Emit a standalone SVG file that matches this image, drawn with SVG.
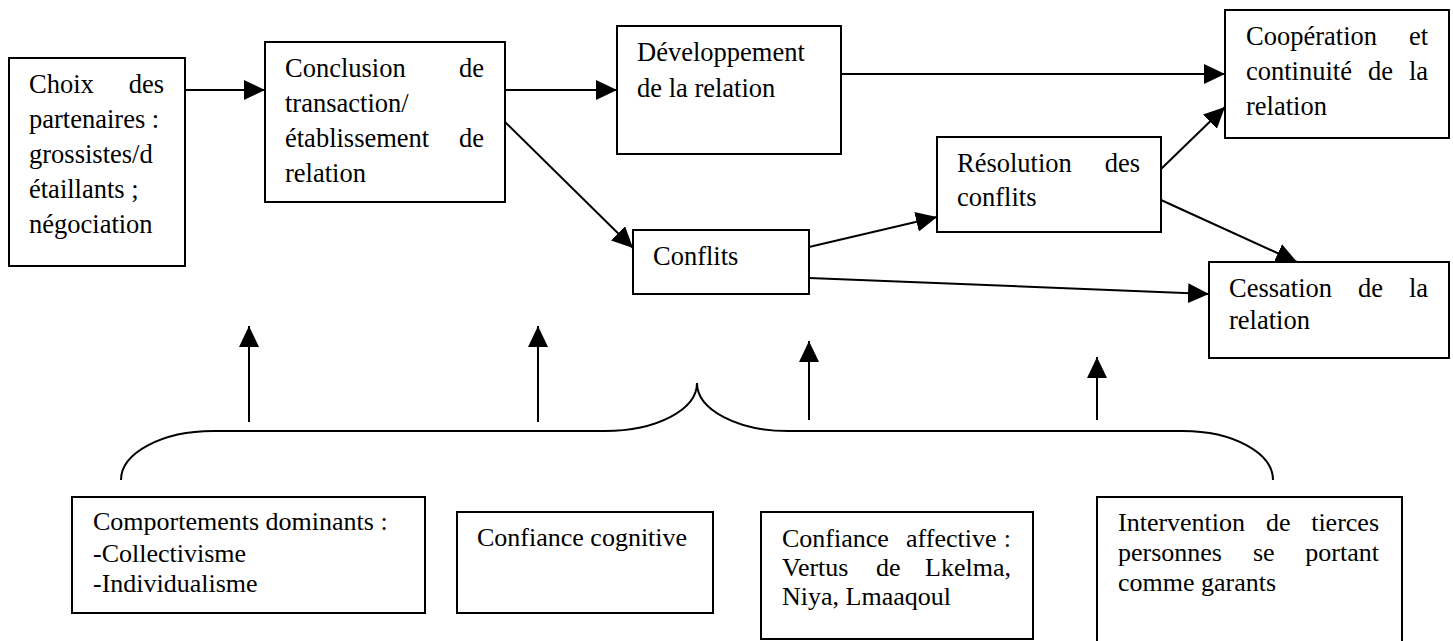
<svg xmlns="http://www.w3.org/2000/svg" width="1453" height="641" viewBox="0 0 1453 641">
<style>
  .box { fill: #fff; stroke: #000; stroke-width: 2; }
  .t { font-family: "Liberation Serif", "Times New Roman", serif; font-size: 26.5px; fill: #000; }
  .b { font-family: "Liberation Serif", "Times New Roman", serif; font-size: 26px; fill: #000; }
  .e { text-anchor: end; }
  .c { fill: none; stroke: #000; stroke-width: 2; }
</style>
<defs>
  <marker id="ah" viewBox="0 0 21 20" refX="21" refY="10" markerWidth="21" markerHeight="20" markerUnits="userSpaceOnUse" orient="auto">
    <path d="M0,0 L21,10 L0,20 z" fill="#000"/>
  </marker>
</defs>
<rect width="1453" height="641" fill="#fff"/>

<g id="connectors">
  <line class="c" x1="185" y1="90" x2="265" y2="90" marker-end="url(#ah)"/>
  <line class="c" x1="505" y1="90" x2="617" y2="90" marker-end="url(#ah)"/>
  <line class="c" x1="505" y1="122" x2="633" y2="248" marker-end="url(#ah)"/>
  <line class="c" x1="841" y1="74" x2="1225" y2="74" marker-end="url(#ah)"/>
  <line class="c" x1="809" y1="247" x2="937" y2="217" marker-end="url(#ah)"/>
  <line class="c" x1="809" y1="278" x2="1209" y2="294" marker-end="url(#ah)"/>
  <line class="c" x1="1161" y1="169" x2="1225" y2="107" marker-end="url(#ah)"/>
  <line class="c" x1="1161" y1="200" x2="1297" y2="262" marker-end="url(#ah)"/>
  <line class="c" x1="249" y1="422" x2="249" y2="326" marker-end="url(#ah)"/>
  <line class="c" x1="538" y1="422" x2="538" y2="326" marker-end="url(#ah)"/>
  <line class="c" x1="809" y1="420" x2="809" y2="341" marker-end="url(#ah)"/>
  <line class="c" x1="1097" y1="420" x2="1097" y2="357" marker-end="url(#ah)"/>
  <path id="brace" class="c" d="M121,480 C121,453 162,431 213,431 L605,431 C656,431 697,410 697,383 C697,410 738,431 788,431 L1183,431 C1233,431 1273,453 1273,480"/>
</g>

<g id="choix">
  <rect class="box" x="9" y="58" width="176" height="208"/>
  <text class="t" x="29" y="93">Choix</text>
  <text class="t e" x="164" y="93">des</text>
  <text class="t" x="29" y="128">partenaires :</text>
  <text class="t" x="29" y="163">grossistes/d</text>
  <text class="t" x="29" y="198">étaillants ;</text>
  <text class="t" x="29" y="233">négociation</text>
</g>

<g id="conclusion">
  <rect class="box" x="265" y="42" width="240" height="160"/>
  <text class="t" x="285" y="77">Conclusion</text>
  <text class="t e" x="484" y="77">de</text>
  <text class="t" x="285" y="112">transaction/</text>
  <text class="t" x="285" y="147">établissement</text>
  <text class="t e" x="484" y="147">de</text>
  <text class="t" x="285" y="182">relation</text>
</g>

<g id="developpement">
  <rect class="box" x="617" y="26" width="224" height="128"/>
  <text class="t" x="637" y="61">Développement</text>
  <text class="t" x="637" y="97">de la relation</text>
</g>

<g id="cooperation">
  <rect class="box" x="1225" y="10" width="224" height="128"/>
  <text class="t" x="1246" y="45">Coopération</text>
  <text class="t e" x="1428" y="45">et</text>
  <text class="t" x="1246" y="80">continuité</text>
  <text class="t" x="1368" y="80">de</text>
  <text class="t e" x="1428" y="80">la</text>
  <text class="t" x="1246" y="115">relation</text>
</g>

<g id="resolution">
  <rect class="box" x="937" y="137" width="224" height="95"/>
  <text class="t" x="957" y="172">Résolution</text>
  <text class="t e" x="1140" y="172">des</text>
  <text class="t" x="957" y="206">conflits</text>
</g>

<g id="conflits">
  <rect class="box" x="633" y="230" width="176" height="64"/>
  <text class="t" x="653" y="265">Conflits</text>
</g>

<g id="cessation">
  <rect class="box" x="1209" y="262" width="240" height="96"/>
  <text class="t" x="1229" y="297">Cessation</text>
  <text class="t" x="1358" y="297">de</text>
  <text class="t e" x="1428" y="297">la</text>
  <text class="t" x="1229" y="329">relation</text>
</g>

<g id="comportements">
  <rect class="box" x="72" y="497" width="353" height="116"/>
  <text class="b" x="93" y="530">Comportements dominants :</text>
  <text class="b" x="93" y="562">-Collectivisme</text>
  <text class="b" x="93" y="592">-Individualisme</text>
</g>

<g id="confiance-cognitive">
  <rect class="box" x="457" y="512" width="256" height="101"/>
  <text class="b" x="477" y="546">Confiance cognitive</text>
</g>

<g id="confiance-affective">
  <rect class="box" x="761" y="512" width="272" height="127"/>
  <text class="b" x="782" y="547">Confiance</text>
  <text class="b" x="906" y="547">affective</text>
  <text class="b e" x="1011" y="547">:</text>
  <text class="b" x="782" y="576">Vertus</text>
  <text class="b" x="876" y="576">de</text>
  <text class="b e" x="1011" y="576">Lkelma,</text>
  <text class="b" x="782" y="605">Niya, Lmaaqoul</text>
</g>

<g id="intervention">
  <rect class="box" x="1097" y="497" width="305" height="160"/>
  <text class="b" x="1118" y="531">Intervention</text>
  <text class="b" x="1266" y="531">de</text>
  <text class="b e" x="1379" y="531">tierces</text>
  <text class="b" x="1118" y="561">personnes</text>
  <text class="b" x="1253" y="561">se</text>
  <text class="b e" x="1379" y="561">portant</text>
  <text class="b" x="1118" y="591">comme garants</text>
</g>
</svg>
